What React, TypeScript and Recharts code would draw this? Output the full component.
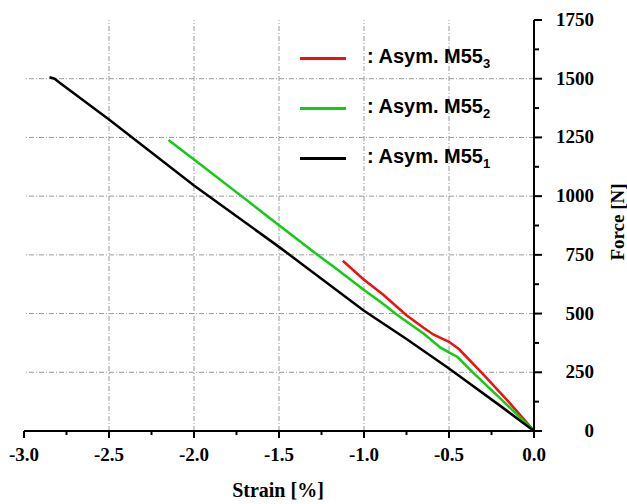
import React from 'react';
import { LineChart, Line, XAxis, YAxis, ReferenceLine } from 'recharts';

// strain [%] / force [N]
const m55_3 = [
  { s: -1.125, f: 725 }, { s: -1.0, f: 644 }, { s: -0.89, f: 582 }, { s: -0.75, f: 493 },
  { s: -0.65, f: 440 }, { s: -0.59, f: 410 }, { s: -0.5, f: 380 }, { s: -0.44, f: 348 },
  { s: -0.3, f: 242 }, { s: -0.15, f: 125 }, { s: 0, f: 0 },
];
const m55_2 = [
  { s: -2.15, f: 1239 }, { s: -2.0, f: 1156 }, { s: -1.69, f: 983 }, { s: -1.5, f: 876 },
  { s: -1.27, f: 748 }, { s: -1.18, f: 700 }, { s: -1.0, f: 600 }, { s: -0.9, f: 548 },
  { s: -0.81, f: 497 }, { s: -0.65, f: 415 }, { s: -0.55, f: 355 }, { s: -0.5, f: 335 },
  { s: -0.45, f: 315 }, { s: -0.36, f: 250 }, { s: -0.2, f: 140 }, { s: 0, f: 0 },
];
const m55_1 = [
  { s: -2.85, f: 1506 }, { s: -2.82, f: 1500 }, { s: -2.79, f: 1483 }, { s: -2.5, f: 1326 },
  { s: -2.0, f: 1045 }, { s: -1.5, f: 784 }, { s: -1.0, f: 512 }, { s: -0.75, f: 392 },
  { s: -0.5, f: 266 }, { s: -0.2, f: 108 }, { s: 0, f: 0 },
];

const xTicks = [-3, -2.75, -2.5, -2.25, -2, -1.75, -1.5, -1.25, -1, -0.75, -0.5, -0.25, 0];
const xGrid = [-2.5, -2, -1.5, -1, -0.5];
const yTicks = [0, 125, 250, 375, 500, 625, 750, 875, 1000, 1125, 1250, 1375, 1500, 1625, 1750];
const yGrid = [250, 500, 750, 1000, 1250, 1500];

const legendItems = [
  { color: '#ee1111', name: 'Asym. M55', sub: '3' },
  { color: '#11cc11', name: 'Asym. M55', sub: '2' },
  { color: '#000000', name: 'Asym. M55', sub: '1' },
];

const serif = '"Liberation Serif", "Times New Roman", serif';
const sans = '"Liberation Sans", Arial, sans-serif';
const gridDash = '5 2 1 2';

const XTick = ({ x, y, payload }: any) => {
  const v = payload.value;
  const major = Math.abs(v * 2 - Math.round(v * 2)) < 1e-6;
  return (
    <g>
      <line x1={x} x2={x} y1={y} y2={y + (major ? 7 : 4)} stroke="#000" strokeWidth={2} />
      {major && (
        <text x={x} y={y + 30} textAnchor="middle" fontFamily={serif} fontWeight="bold" fontSize={19} fill="#000">
          {v.toFixed(1)}
        </text>
      )}
    </g>
  );
};

const YTick = ({ x, y, payload }: any) => {
  const v = payload.value;
  const major = v % 250 === 0;
  return (
    <g>
      <line x1={x} x2={x + (major ? 8 : 5)} y1={y} y2={y} stroke="#000" strokeWidth={2} />
      {major && (
        <text x={x + 60} y={y + 6} textAnchor="end" fontFamily={serif} fontWeight="bold" fontSize={19} fill="#000">
          {v}
        </text>
      )}
    </g>
  );
};

const LegendBox = () => (
  <div
    style={{
      position: 'absolute',
      left: 300,
      top: 33,
      fontFamily: sans,
      fontWeight: 'bold',
      fontSize: 20,
      color: '#000',
    }}
  >
    {legendItems.map((it) => (
      <div key={it.sub} style={{ display: 'flex', alignItems: 'center', height: 50 }}>
        <div style={{ width: 46, height: 3, background: it.color }} />
        <span style={{ marginLeft: 21, whiteSpace: 'nowrap' }}>
          : {it.name}
          <sub style={{ fontSize: 13, verticalAlign: 'sub' }}>{it.sub}</sub>
        </span>
      </div>
    ))}
  </div>
);

export default function App() {
  return (
    <div style={{ position: 'absolute', left: 0, top: 0, width: 627, height: 504, background: '#fff' }}>
      <LineChart width={627} height={504} margin={{ top: 20, right: 13, left: 24, bottom: 33 }}>
        <XAxis
          type="number"
          dataKey="s"
          domain={[-3, 0]}
          ticks={xTicks}
          interval={0}
          tickSize={0}
          tickMargin={0}
          tick={<XTick />}
          axisLine={{ stroke: '#000', strokeWidth: 2 }}
          height={40}
          allowDataOverflow
        />
        <YAxis
          type="number"
          orientation="right"
          domain={[0, 1750]}
          ticks={yTicks}
          interval={0}
          tickSize={0}
          tickMargin={0}
          tick={<YTick />}
          axisLine={{ stroke: '#000', strokeWidth: 2 }}
          width={80}
          allowDataOverflow
        />
        {xGrid.map((v) => (
          <ReferenceLine key={'x' + v} x={v} stroke="#9a9a9a" strokeWidth={1} strokeDasharray={gridDash} />
        ))}
        {yGrid.map((v) => (
          <ReferenceLine key={'y' + v} y={v} stroke="#9a9a9a" strokeWidth={1} strokeDasharray={gridDash} />
        ))}
        <Line data={m55_3} dataKey="f" stroke="#ee1111" strokeWidth={2.5} dot={false} isAnimationActive={false} />
        <Line data={m55_2} dataKey="f" stroke="#11cc11" strokeWidth={2.5} dot={false} isAnimationActive={false} />
        <Line data={m55_1} dataKey="f" stroke="#000000" strokeWidth={2.5} dot={false} isAnimationActive={false} />
        <text x={278} y={497} textAnchor="middle" fontFamily={serif} fontWeight="bold" fontSize={20} fill="#000">
          Strain [%]
        </text>
        <text
          x={617}
          y={222}
          textAnchor="middle"
          dominantBaseline="central"
          transform="rotate(-90 617 222)"
          fontFamily={serif}
          fontWeight="bold"
          fontSize={19}
          fill="#000"
        >
          Force [N]
        </text>
      </LineChart>
      <LegendBox />
    </div>
  );
}
